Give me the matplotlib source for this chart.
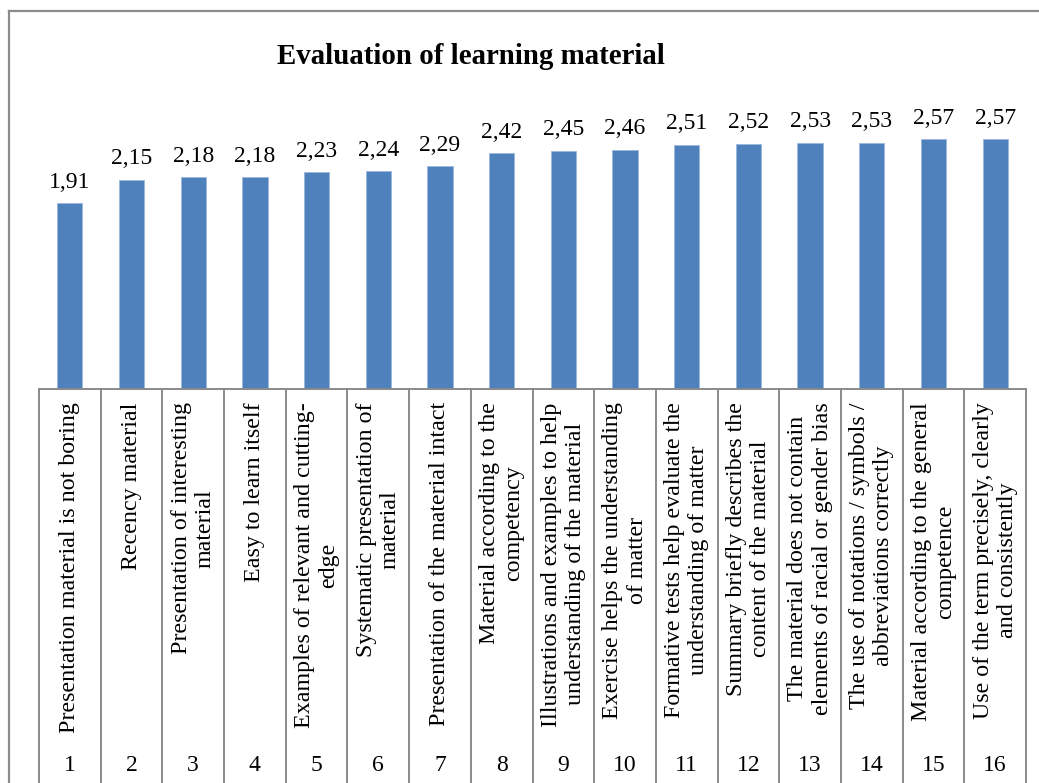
import matplotlib.pyplot as plt
from matplotlib.lines import Line2D

# data
numbers = [str(i) for i in range(1, 17)]
values = [1.91, 2.15, 2.18, 2.18, 2.23, 2.24, 2.29, 2.42,
          2.45, 2.46, 2.51, 2.52, 2.53, 2.53, 2.57, 2.57]
labels = [
    "Presentation material is not boring",
    "Recency material",
    "Presentation of interesting\nmaterial",
    "Easy to learn itself",
    "Examples of relevant and cutting-\nedge",
    "Systematic presentation of\nmaterial",
    "Presentation of the material intact",
    "Material according to the\ncompetency",
    "Illustrations and examples to help\nunderstanding of the material",
    "Exercise helps the understanding\nof matter",
    "Formative tests help evaluate the\nunderstanding of matter",
    "Summary briefly describes the\ncontent of the material",
    "The material does not contain\nelements of racial or gender bias",
    "The use of notations / symbols /\nabbreviations correctly",
    "Material according to the general\ncompetence",
    "Use of the term precisely, clearly\nand consistently",
]

plt.rcParams['font.family'] = ['Liberation Serif', 'DejaVu Serif']

W, H = 1039, 783
fig = plt.figure(figsize=(W / 100, H / 100), dpi=100)

# outer chart border (only top and left visible)
grey = '#8c8c8c'
fig.add_artist(Line2D([9 / W, 9 / W], [0, 1 - 11 / H], color=grey, lw=1.6,
                      transform=fig.transFigure))
fig.add_artist(Line2D([9 / W, 1], [1 - 11 / H, 1 - 11 / H], color=grey, lw=1.6,
                      transform=fig.transFigure))

ax = fig.add_axes([39 / W, 1 - 389 / H, (1026 - 39) / W, 292 / H])
x = list(range(len(values)))
bars = ax.bar(x, values, width=0.41, color='#4F81BD', edgecolor='#9bb7dc', linewidth=0.6)
ax.set_xlim(-0.5, len(values) - 0.5)
ax.set_ylim(0, 3.0)
ax.axis('off')

for xi, v in zip(x, values):
    ax.annotate(f"{v:.2f}".replace('.', ','), (xi, v), xytext=(0, 11),
                textcoords='offset points', ha='center', va='baseline', fontsize=17)

# category table under the bars
tr = ax.get_xaxis_transform()
line_c = '#8a8a8a'
ax.plot([-0.5, len(values) - 0.5], [0, 0], color=line_c, lw=1.4, transform=tr, clip_on=False)
for k in range(len(values) + 1):
    ax.plot([k - 0.5, k - 0.5], [0, -1.5], color=line_c, lw=1.4, transform=tr, clip_on=False)

for xi, lab, num in zip(x, labels, numbers):
    ax.text(xi, -0.045, lab, rotation=90, ha='center', va='top',
            multialignment='center', fontsize=17.3, transform=tr, linespacing=1.2)
    ax.text(xi, -1.288, num, ha='center', va='center', fontsize=17, transform=tr)

fig.text(471 / W, 1 - 56 / H, "Evaluation of learning material", ha='center', va='center',
         fontsize=20.8, fontweight='bold')

fig.savefig('out.png', dpi=100)
